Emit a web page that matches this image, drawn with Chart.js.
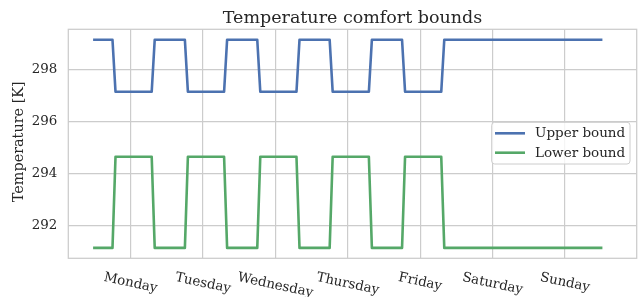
<!DOCTYPE html>
<html><head><meta charset="utf-8">
<script src="https://cdn.jsdelivr.net/npm/chart.js@4/dist/chart.umd.min.js"></script>
<style>html,body{margin:0;padding:0;background:#fff;}#wrap{width:643px;height:297px;}</style>
</head><body><div id="wrap"><canvas id="c" width="643" height="297"></canvas></div>
<script>
// Hours since Monday 00:00 at which the bounds change (corner points of the step profile)
const hours = [0, 6, 7, 19, 20, 30, 31, 43, 44, 54, 55, 67, 68, 78, 79, 91, 92, 102, 103, 115, 116, 168];
const upperBound = [299.15, 299.15, 297.15, 297.15, 299.15, 299.15, 297.15, 297.15, 299.15, 299.15, 297.15, 297.15,
                    299.15, 299.15, 297.15, 297.15, 299.15, 299.15, 297.15, 297.15, 299.15, 299.15];
const lowerBound = [291.15, 291.15, 294.65, 294.65, 291.15, 291.15, 294.65, 294.65, 291.15, 291.15, 294.65, 294.65,
                    291.15, 291.15, 294.65, 294.65, 291.15, 291.15, 294.65, 294.65, 291.15, 291.15];
const dayTicks = [12, 36, 60, 84, 108, 132, 156];
const dayLabels = ['Monday', 'Tuesday', 'Wednesday', 'Thursday', 'Friday', 'Saturday', 'Sunday'];
const yTicks = [292, 294, 296, 298];
const seriesNames = ['Upper bound', 'Lower bound'];
const titleText = 'Temperature comfort bounds';
const yTitle = 'Temperature [K]';

const FONT = '"DejaVu Serif", serif';
const TXT = '#262626';
const GRID = '#cccccc';

const decor = {
  id: 'decor',
  beforeDatasetsDraw(chart) {
    const {ctx, chartArea: a} = chart;
    ctx.save();
    ctx.strokeStyle = GRID;
    ctx.lineWidth = 1.25;
    ctx.strokeRect(a.left, a.top, a.right - a.left, a.bottom - a.top);
    ctx.restore();
  },
  afterDraw(chart) {
    const {ctx, chartArea: a, scales} = chart;
    ctx.save();
    ctx.fillStyle = TXT;
    // title
    ctx.font = '17.5px ' + FONT;
    ctx.textAlign = 'center';
    ctx.textBaseline = 'alphabetic';
    ctx.fillText(titleText, (a.left + a.right) / 2, 23.3);
    // y title
    ctx.save();
    ctx.translate(19.5, (a.top + a.bottom) / 2 - 2);
    ctx.rotate(-Math.PI / 2);
    ctx.font = '14.4px ' + FONT;
    ctx.textBaseline = 'middle';
    ctx.fillText(yTitle, 0, 0);
    ctx.restore();
    // x tick labels, rotated clockwise
    const ang = 12 * Math.PI / 180;
    ctx.font = '13.4px ' + FONT;
    ctx.textAlign = 'center';
    ctx.textBaseline = 'middle';
    dayTicks.forEach((v, i) => {
      const x = scales.x.getPixelForValue(v);
      const w = ctx.measureText(dayLabels[i]).width;
      const h = 15.6;
      const bh = w * Math.sin(ang) + h * Math.cos(ang);
      const cy = a.bottom + 11.5 + bh / 2;
      ctx.save();
      ctx.translate(x, cy);
      ctx.rotate(ang);
      ctx.fillText(dayLabels[i], 0, 0);
      ctx.restore();
    });
    // legend
    const lx = 491.7, ly = 122.3, lw = 138.3, lh = 41.7, r = 3;
    ctx.beginPath();
    ctx.moveTo(lx + r, ly);
    ctx.arcTo(lx + lw, ly, lx + lw, ly + lh, r);
    ctx.arcTo(lx + lw, ly + lh, lx, ly + lh, r);
    ctx.arcTo(lx, ly + lh, lx, ly, r);
    ctx.arcTo(lx, ly, lx + lw, ly, r);
    ctx.closePath();
    ctx.fillStyle = 'rgba(255,255,255,0.8)';
    ctx.fill();
    ctx.strokeStyle = GRID;
    ctx.lineWidth = 1;
    ctx.stroke();
    ctx.font = '13.5px ' + FONT;
    ctx.textAlign = 'left';
    ctx.textBaseline = 'middle';
    chart.data.datasets.forEach((ds, i) => {
      const y = 133.3 + i * 19.4;
      ctx.strokeStyle = ds.borderColor;
      ctx.lineWidth = ds.borderWidth;
      ctx.lineCap = 'square';
      ctx.beginPath();
      ctx.moveTo(496.3, y);
      ctx.lineTo(523.7, y);
      ctx.stroke();
      ctx.fillStyle = TXT;
      ctx.fillText(ds.label, 535, y + 0.5);
    });
    ctx.restore();
  }
};

new Chart(document.getElementById('c'), {
  type: 'line',
  data: {
    datasets: [
      {label: seriesNames[0], data: hours.map((h, i) => ({x: h, y: upperBound[i]})),
       borderColor: '#4C72B0', borderWidth: 2.6, pointRadius: 0, tension: 0, fill: false,
       borderCapStyle: 'square', borderJoinStyle: 'round'},
      {label: seriesNames[1], data: hours.map((h, i) => ({x: h, y: lowerBound[i]})),
       borderColor: '#55A868', borderWidth: 2.6, pointRadius: 0, tension: 0, fill: false,
       borderCapStyle: 'square', borderJoinStyle: 'round'}
    ]
  },
  options: {
    responsive: false,
    devicePixelRatio: 1,
    animation: false,
    layout: {padding: {top: 29.3, right: 6.3, left: 0, bottom: 0}},
    plugins: {legend: {display: false}, title: {display: false}, tooltip: {enabled: false}},
    scales: {
      x: {
        type: 'linear', min: -8.65, max: 179.8,
        afterBuildTicks: s => { s.ticks = dayTicks.map(v => ({value: v})); },
        afterFit: s => { s.height = 38.7; },
        ticks: {display: false},
        grid: {color: GRID, lineWidth: 1.2, drawTicks: false},
        border: {display: false}
      },
      y: {
        min: 290.75, max: 299.55,
        afterBuildTicks: s => { s.ticks = yTicks.map(v => ({value: v})); },
        afterFit: s => { s.width = 68.3; },
        ticks: {color: TXT, font: {family: FONT, size: 13.4}, padding: 11},
        grid: {color: GRID, lineWidth: 1.2, drawTicks: false},
        border: {display: false}
      }
    }
  },
  plugins: [decor]
});
</script>
</body></html>
